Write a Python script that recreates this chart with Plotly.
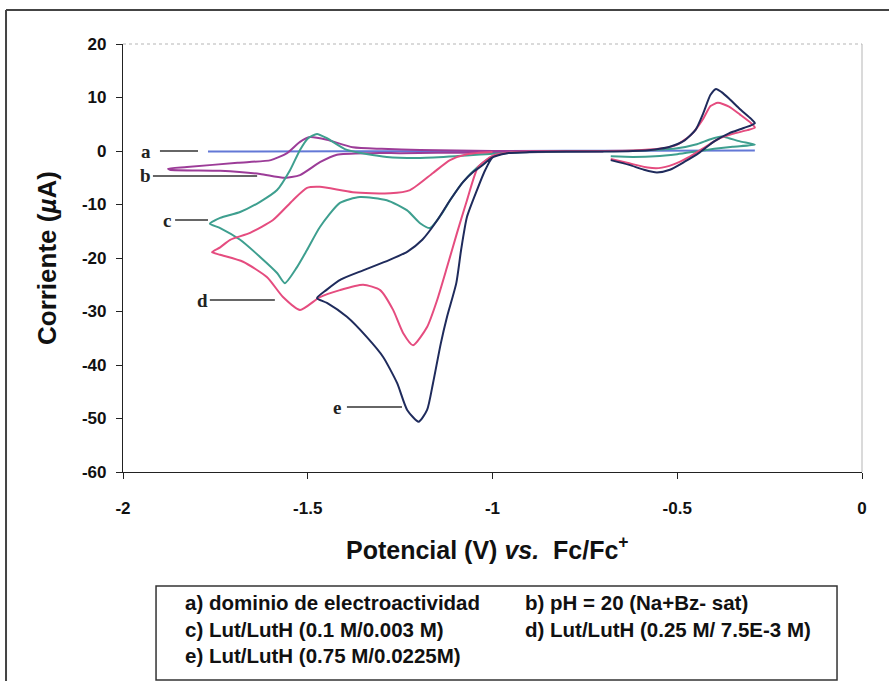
import plotly.graph_objects as go

# ---------------- data (V vs Fc/Fc+, current in uA) ----------------
a_V = [-1.77, -1.40, -1.00, -0.60, -0.29]
a_I = [-0.1, -0.05, 0.0, 0.05, 0.1]

b_V = [-0.70, -0.85, -1.00, -1.15, -1.25, -1.33, -1.421, -1.467, -1.521, -1.567, -1.629, -1.737, -1.873, -1.878,
       -1.827, -1.69, -1.60, -1.556, -1.521, -1.494, -1.448, -1.378, -1.30, -1.196, -1.00, -0.85, -0.70]
b_I = [-0.1, -0.2, -0.3, -0.35, -0.4, -0.4, -0.7, -2.1, -4.5, -5.0, -4.3, -3.7, -3.5, -3.3,
       -3.0, -2.2, -1.7, -0.4, 1.7, 2.6, 2.1, 0.7, 0.4, 0.2, 0.0, 0.0, 0.0]

c_V = [-0.68, -0.62, -0.56, -0.50, -0.45, -0.40, -0.35, -0.29,
       -0.33, -0.36, -0.38, -0.41, -0.45, -0.50, -0.56, -0.65, -0.80, -0.95,
       -1.00, -1.04, -1.08, -1.11, -1.14, -1.169, -1.196, -1.231, -1.286, -1.359, -1.413, -1.467, -1.502,
       -1.529, -1.562, -1.583, -1.629, -1.683, -1.737, -1.765,
       -1.737, -1.683, -1.629, -1.583, -1.548, -1.521, -1.499, -1.475, -1.448, -1.394, -1.286, -1.196,
       -1.10, -1.00, -0.92]
c_I = [-1.0, -1.1, -1.0, -0.6, -0.1, 0.4, 0.8, 1.2,
       1.8, 2.4, 2.7, 2.2, 1.2, 0.5, 0.2, 0.0, -0.1, -0.3,
       -1.0, -3.0, -5.8, -8.7, -12.0, -14.4, -13.5, -11.1, -9.2, -8.6, -9.7, -14.2, -18.5,
       -21.7, -24.7, -22.8, -19.8, -16.6, -14.4, -13.6,
       -12.5, -11.4, -9.5, -7.3, -3.6, 0.2, 2.4, 3.2, 2.4, 0.2, -1.1, -1.3,
       -1.0, -0.5, -0.3]

d_V = [-0.68, -0.63, -0.58, -0.55, -0.51, -0.47, -0.43, -0.39, -0.35, -0.31, -0.29,
       -0.30, -0.33, -0.36, -0.39, -0.41, -0.43, -0.46, -0.50, -0.55, -0.62, -0.75, -0.90, -0.97,
       -1.00, -1.039, -1.069, -1.096, -1.123, -1.150, -1.177, -1.215, -1.242, -1.269, -1.304, -1.35,
       -1.413, -1.467, -1.521, -1.567, -1.61, -1.675, -1.737, -1.759,
       -1.737, -1.71, -1.656, -1.594, -1.54, -1.502, -1.467, -1.378, -1.277, -1.223, -1.161, -1.115,
       -1.069, -1.00]
d_I = [-1.5, -2.3, -3.1, -3.2, -2.5, -1.2, 0.5, 2.2, 3.2, 3.9, 4.4,
       5.2, 6.8, 8.3, 9.0, 8.4, 6.0, 3.2, 1.2, 0.4, 0.1, 0.0, -0.1, -0.4,
       -0.9, -3.0, -9.2, -15.3, -21.7, -27.9, -32.9, -36.3, -34.0, -29.7, -26.0, -25.0,
       -26.0, -27.3, -29.7, -27.3, -23.6, -20.7, -19.4, -18.9,
       -18.0, -16.6, -15.3, -12.9, -9.2, -6.9, -6.7, -7.7, -7.9, -7.3, -4.1, -1.7,
       -0.6, -0.2]

e_V = [-0.68, -0.63, -0.59, -0.555, -0.52, -0.48, -0.44, -0.40, -0.36, -0.32, -0.29,
       -0.30, -0.33, -0.36, -0.38, -0.395, -0.41, -0.43, -0.45, -0.48, -0.52, -0.56, -0.62, -0.70, -0.80, -0.90, -0.96,
       -1.00, -1.02, -1.042, -1.069, -1.085, -1.098, -1.123, -1.14, -1.161, -1.177, -1.20, -1.231, -1.258,
       -1.296, -1.34, -1.394, -1.448, -1.475,
       -1.45, -1.41, -1.35, -1.28, -1.23, -1.19, -1.15, -1.115, -1.08, -1.05, -1.03, -1.00, -0.96]
e_I = [-1.7, -2.6, -3.5, -4.0, -3.5, -2.0, -0.3, 1.8, 3.3, 4.3, 5.2,
       6.0, 7.8, 9.8, 11.0, 11.6, 10.5, 7.0, 4.0, 2.0, 0.8, 0.3, 0.0, -0.1, -0.1, -0.2, -0.4,
       -1.2, -3.6, -7.3, -12.3, -18.5, -24.7, -31.0, -36.0, -43.4, -48.4, -50.6, -48.4, -43.4,
       -38.5, -34.8, -31.0, -28.4, -27.5,
       -26.0, -24.0, -22.3, -20.4, -18.8, -16.6, -13.0, -9.2, -5.8, -3.8, -2.8, -1.2, -0.4]

series_names = ["a", "b", "c", "d", "e"]
series_colors = ["#6378d6", "#9c3c98", "#3e9f8f", "#e54c7f", "#1f2b5c"]

# curve labels (letter, text position, leader line start/end, level)
label_text_V = [-1.938, -1.940, -1.881, -1.786, -1.421]
label_line_V0 = [-1.900, -1.919, -1.859, -1.765, -1.394]
label_line_V1 = [-1.797, -1.637, -1.770, -1.589, -1.245]
label_I = [0.0, -4.67, -12.9, -27.85, -47.85]

x_ticks = [-2, -1.5, -1, -0.5, 0]
x_ticklabels = ["-2", "-1.5", "-1", "-0.5", "0"]
y_ticks = [20, 10, 0, -10, -20, -30, -40, -50, -60]
y_ticklabels = ["20", "10", "0", "-10", "-20", "-30", "-40", "-50", "-60"]

legend_lines = [
    ["a) dominio de electroactividad", "b) pH = 20 (Na+Bz- sat)"],
    ["c) Lut/LutH (0.1 M/0.003 M)", "d) Lut/LutH (0.25 M/ 7.5E-3 M)"],
    ["e) Lut/LutH (0.75 M/0.0225M)", ""],
]

# ---------------- figure ----------------
fig = go.Figure()
xs = [a_V, b_V, c_V, d_V, e_V]
ys = [a_I, b_I, c_I, d_I, e_I]
for name, col, xv, yv in zip(series_names, series_colors, xs, ys):
    fig.add_trace(go.Scatter(x=xv, y=yv, mode="lines", name=name,
                             line=dict(color=col, width=2, shape="spline", smoothing=0.6),
                             showlegend=False, hoverinfo="skip"))

font_main = "Liberation Sans, Arial, sans-serif"

shapes = []
annotations = []
for t, xt, x0, x1, yy in zip(series_names, label_text_V, label_line_V0, label_line_V1, label_I):
    annotations.append(dict(x=xt, y=yy, xref="x", yref="y", text=t, showarrow=False,
                            font=dict(family="Liberation Serif, Times New Roman, serif", size=19,
                                      color="#222", weight="bold"),
                            xanchor="center", yanchor="middle"))
    shapes.append(dict(type="line", xref="x", yref="y", x0=x0, x1=x1, y0=yy, y1=yy,
                       line=dict(color="#333", width=1.3)))

# plot area light top/right border
shapes.append(dict(type="line", xref="paper", yref="paper", x0=0, x1=1, y0=1, y1=1,
                   line=dict(color="#b5b5b5", width=1, dash="dot")))
shapes.append(dict(type="line", xref="paper", yref="paper", x0=1, x1=1, y0=0, y1=1,
                   line=dict(color="#b5b5b5", width=1)))
# outer frame (left & top)
shapes.append(dict(type="line", xref="paper", yref="paper", x0=-0.1583, x1=1.04, y0=1.0794, y1=1.0794,
                   line=dict(color="#444", width=2)))
shapes.append(dict(type="line", xref="paper", yref="paper", x0=-0.1583, x1=-0.1583, y0=1.0794, y1=-0.53,
                   line=dict(color="#444", width=2)))
# legend box
shapes.append(dict(type="rect", xref="paper", yref="paper", x0=0.0447, x1=0.9662, y0=-0.486, y1=-0.2664,
                   line=dict(color="#333", width=1.5), fillcolor="rgba(0,0,0,0)"))

row_y = [-0.306, -0.369, -0.4276]
col_x = [0.0812, 0.5413]
for ry, row in zip(row_y, legend_lines):
    for cx, txt in zip(col_x, row):
        if txt:
            annotations.append(dict(x=cx, y=ry, xref="paper", yref="paper", text=txt, showarrow=False,
                                    xanchor="left", yanchor="middle",
                                    font=dict(family=font_main, size=20.5, color="#111", weight="bold")))

# axis titles
annotations.append(dict(x=0.4926, y=-0.1776, xref="paper", yref="paper",
                        text="Potencial (V) <i>vs.</i>  Fc/Fc<sup>+</sup>", showarrow=False,
                        xanchor="center", yanchor="middle",
                        font=dict(family=font_main, size=25, color="#111", weight="bold")))
annotations.append(dict(x=-0.1028, y=0.5, xref="paper", yref="paper",
                        text="Corriente (<i>\u00b5</i>A)", showarrow=False, textangle=-90,
                        xanchor="center", yanchor="middle",
                        font=dict(family=font_main, size=26, color="#111", weight="bold")))

fig.update_layout(
    width=889, height=681,
    margin=dict(l=123, r=27, t=44, b=209),
    paper_bgcolor="white", plot_bgcolor="white",
    shapes=shapes, annotations=annotations,
    xaxis=dict(range=[-2, 0], tickvals=x_ticks, ticktext=x_ticklabels, showgrid=False, zeroline=False,
               showline=True, linecolor="#222", linewidth=1.2, ticks="outside", ticklen=6,
               tickcolor="#222", ticklabelstandoff=14,
               tickfont=dict(family=font_main, size=17, color="#111", weight="bold")),
    yaxis=dict(range=[-60, 20], tickvals=y_ticks, ticktext=y_ticklabels, showgrid=False, zeroline=False,
               showline=True, linecolor="#222", linewidth=1.2, ticks="outside", ticklen=6,
               tickcolor="#222", ticklabelstandoff=6,
               tickfont=dict(family=font_main, size=17, color="#111", weight="bold")),
)

fig.write_html("out.html")
